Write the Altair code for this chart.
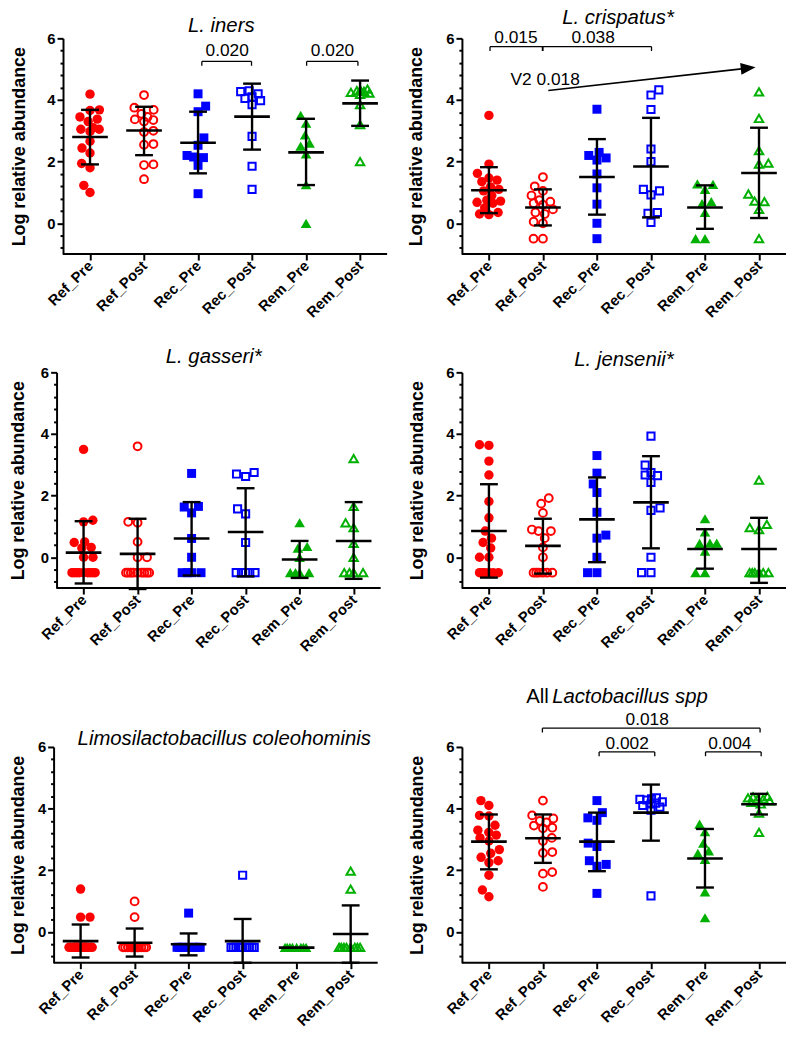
import altair as alt
import pandas as pd

# ---------------- data ----------------
GROUPS = ["Ref_Pre", "Ref_Post", "Rec_Pre", "Rec_Post", "Rem_Pre", "Rem_Post"]
GROUP_SHAPES = ["circle", "circle", "square", "square", "triangle-up", "triangle-up"]
GROUP_COLORS = ["#ff0000", "#ff0000", "#0000ff", "#0000ff", "#00b000", "#00b000"]
GROUP_FILLED = [True, False, True, False, True, False]
Y_TICK_VALUES = [-0.8, -0.4, 0.0, 0.4, 0.8, 1.2, 1.6, 2.0, 2.4, 2.8, 3.2, 3.6, 4.0, 4.4, 4.8, 5.2, 5.6, 6.0]

iners_values = [
    [4.19, 3.68, 3.66, 3.45, 3.38, 3.30, 3.10, 3.05, 3.05, 2.98, 2.66, 2.44, 2.28, 1.94, 1.80, 1.23, 1.00],
    [4.16, 3.75, 3.68, 3.55, 3.45, 3.37, 3.35, 3.30, 3.00, 2.96, 2.57, 2.55, 1.91, 1.89, 1.43],
    [4.20, 3.80, 3.62, 2.77, 2.53, 2.20, 2.15, 2.13, 1.88, 0.96],
    [4.30, 4.27, 4.20, 4.10, 4.05, 3.98, 3.85, 2.82, 1.85, 1.10],
    [3.50, 3.25, 2.87, 2.60, 2.50, 2.25, 1.25, 0.00],
    [4.35, 4.32, 4.30, 4.28, 4.25, 4.22, 4.18, 3.85, 3.20, 2.00],
]
iners_mean = [2.80, 3.01, 2.61, 3.46, 2.30, 3.89]
iners_sd_hi = [3.68, 3.78, 3.62, 4.53, 3.39, 4.63]
iners_sd_lo = [1.91, 2.21, 1.62, 2.39, 1.24, 3.16]

crispatus_values = [
    [3.50, 1.92, 1.62, 1.47, 1.40, 1.35, 1.18, 1.10, 1.05, 0.90, 0.75, 0.72, 0.68, 0.65, 0.50, 0.35, 0.30, 0.28],
    [1.50, 1.20, 1.05, 0.90, 0.75, 0.70, 0.65, 0.60, 0.45, 0.35, 0.30, 0.05, 0.00, -0.50, -0.50],
    [3.70, 2.30, 2.20, 2.12, 2.05, 1.60, 1.15, 0.62, 0.00, -0.50],
    [4.33, 4.16, 3.69, 2.41, 2.00, 1.10, 1.05, 0.92, 0.35, 0.32, 0.03],
    [1.28, 1.26, 1.10, 0.70, 0.64, 0.35, -0.50, -0.50],
    [4.26, 3.40, 2.36, 1.95, 1.92, 0.95, 0.72, 0.70, 0.45, -0.50],
]
crispatus_mean = [1.07, 0.51, 1.50, 1.84, 0.51, 1.63]
crispatus_sd_hi = [1.82, 1.10, 2.73, 3.42, 1.23, 3.10]
crispatus_sd_lo = [0.33, -0.07, 0.28, 0.19, -0.18, 0.17]

gasseri_values = [
    [3.50, 1.20, 1.15, 0.50, 0.48, 0.32, 0.30, 0.00, 0.00,
     -0.50, -0.50, -0.50, -0.50, -0.50, -0.50, -0.50, -0.50, -0.50],
    [3.60, 1.15, 1.12, 0.50, 0.00, 0.00,
     -0.50, -0.50, -0.50, -0.50, -0.50, -0.50, -0.50, -0.50, -0.50],
    [2.72, 1.65, 1.63, 1.44, 0.61, 0.00, -0.50, -0.50, -0.50, -0.50],
    [2.75, 2.70, 2.62, 1.57, 1.41, 0.48, -0.50, -0.50, -0.50, -0.50, -0.50],
    [1.12, 0.35, 0.30, 0.00, -0.50, -0.50, -0.50, -0.50],
    [3.20, 1.65, 1.12, 0.96, 0.45, 0.00, -0.50, -0.50, -0.50, -0.50],
]
gasseri_mean = [0.15, 0.11, 0.61, 0.82, -0.07, 0.53]
gasseri_sd_hi = [1.17, 1.25, 1.79, 2.24, 0.53, 1.79]
gasseri_sd_lo = [-0.85, -1.03, -0.59, -0.62, -0.67, -0.70]

jensenii_values = [
    [3.65, 3.63, 3.12, 2.67, 1.81, 1.28, 0.85, 0.62, 0.48, 0.30, 0.00, 0.00,
     -0.50, -0.50, -0.50, -0.50, -0.50, -0.50],
    [1.92, 1.74, 1.44, 0.90, 0.85, 0.85, 0.62, 0.32, 0.00,
     -0.50, -0.50, -0.50, -0.50, -0.50, -0.50],
    [3.30, 2.73, 2.38, 2.10, 1.46, 0.72, 0.62, 0.00, -0.50, -0.50],
    [3.93, 2.99, 2.75, 2.67, 2.65, 2.43, 1.60, 1.52, 0.00, -0.50, -0.50],
    [1.25, 0.82, 0.46, 0.46, 0.45, 0.20, -0.50, -0.50],
    [2.50, 1.07, 0.96, 0.90, -0.50, -0.50, -0.50, -0.50, -0.50, -0.50],
]
jensenii_mean = [0.85, 0.37, 1.23, 1.78, 0.27, 0.27]
jensenii_sd_hi = [2.37, 1.25, 2.59, 3.28, 0.91, 1.28]
jensenii_sd_lo = [-0.66, -0.53, -0.16, 0.29, -0.37, -0.83]

coleo_values = [
    [1.39, 0.48, 0.48, -0.50, -0.50, -0.50, -0.50, -0.50, -0.50, -0.50, -0.50,
     -0.50, -0.50, -0.50, -0.50, -0.50, -0.50, -0.50],
    [0.99, 0.48, -0.50, -0.50, -0.50, -0.50, -0.50, -0.50, -0.50, -0.50,
     -0.50, -0.50, -0.50, -0.50, -0.50],
    [0.61, -0.50, -0.50, -0.50, -0.50, -0.50, -0.50, -0.50, -0.50, -0.50],
    [1.84, -0.50, -0.50, -0.50, -0.50, -0.50, -0.50, -0.50, -0.50, -0.50, -0.50],
    [-0.50, -0.50, -0.50, -0.50, -0.50, -0.50, -0.50, -0.50],
    [1.97, 1.39, -0.50, -0.50, -0.50, -0.50, -0.50, -0.50, -0.50, -0.50],
]
coleo_mean = [-0.30, -0.35, -0.40, -0.30, -0.51, -0.07]
coleo_sd_hi = [0.24, 0.11, -0.05, 0.42, -0.51, 0.86]
coleo_sd_lo = [-0.83, -0.80, -0.76, -1.00, -0.51, -1.00]

lacto_values = [
    [4.26, 4.10, 3.78, 3.76, 3.46, 3.30, 3.23, 3.14, 3.05, 2.95, 2.67, 2.55, 2.42, 2.31, 2.25, 1.84, 1.36, 1.14],
    [4.26, 3.78, 3.68, 3.60, 3.55, 3.45, 3.38, 3.36, 3.05, 2.95, 2.59, 2.56, 1.94, 1.89, 1.46],
    [4.26, 3.87, 3.70, 3.62, 2.88, 2.77, 2.31, 2.19, 2.13, 1.25],
    [4.35, 4.32, 4.30, 4.28, 4.22, 4.18, 4.15, 4.10, 4.05, 3.95, 1.17],
    [3.50, 3.25, 2.88, 2.63, 2.55, 2.35, 1.30, 0.46],
    [4.40, 4.38, 4.35, 4.32, 4.30, 4.25, 4.20, 4.15, 3.85, 3.23],
]
lacto_mean = [2.93, 3.04, 2.93, 3.87, 2.38, 4.14]
lacto_sd_hi = [3.81, 3.81, 3.87, 4.78, 3.34, 4.48]
lacto_sd_lo = [2.03, 2.24, 1.97, 2.96, 1.44, 3.81]

# significance brackets: (x from, x to, level, label, label x, label y)
iners_brackets = [(2.07, 2.99, 5.25, "0.020", 2.54, 5.44), (4.01, 4.96, 5.25, "0.020", 4.49, 5.44)]
crispatus_brackets = [(0.02, 1.0, 5.73, "0.015", 0.50, 5.86), (0.99, 3.01, 5.73, "0.038", 1.93, 5.86)]
lacto_brackets = [(0.99, 5.02, 6.61, "0.018", 2.93, 6.72),
                  (2.04, 3.07, 5.84, "0.002", 2.56, 5.95),
                  (4.01, 5.04, 5.84, "0.004", 4.46, 5.95)]

# ---------------- styling / layout ----------------
FONT = "Liberation Sans"
W, H = 327, 217.7
PX_PER_UNIT = H / 7.0
STEP_PX = W / 6.0

SIZES = {("circle", True): 90, ("circle", False): 62,
         ("square", True): 82, ("square", False): 52,
         ("triangle-up", True): 115, ("triangle-up", False): 72}

YSCALE = alt.Scale(domain=[-1, 6], nice=False, zero=False)
label_list = "[" + ",".join("'%s'" % g for g in GROUPS) + "]"


def x_axis():
    return alt.Axis(values=list(range(6)), labelExpr=label_list + "[datum.value]", title=None,
                    labelAngle=315, labelAlign="right", labelBaseline="middle",
                    labelFont=FONT, labelFontSize=15, labelFontWeight="bold", labelColor="black",
                    labelPadding=3, tickSize=6, tickWidth=2, tickColor="black",
                    domain=False, grid=False, labelFlush=False, labelOverlap=False)


def y_axis(title_pad, offset):
    return alt.Axis(values=Y_TICK_VALUES,
                    labelExpr="datum.value % 2 === 0 ? format(datum.value, 'd') : ''",
                    title="Log relative abundance", titleFont=FONT, titleFontSize=18,
                    titleFontWeight="bold", titleColor="black", titlePadding=title_pad,
                    labelFont=FONT, labelFontSize=15, labelFontWeight="bold", labelColor="black",
                    labelPadding=2, offset=offset,
                    tickSize={"condition": {"test": "datum.value % 2 === 0", "value": 6}, "value": 3},
                    tickWidth=2, tickColor="black", domainColor="black", domainWidth=2,
                    grid=False, labelOverlap=False, labelFlush=False)


def swarm(vals, d=9.5, maxhalf=12.0):
    n = len(vals)
    order = sorted(range(n), key=lambda i: vals[i])
    placed = []
    offs = [0.0] * n
    for i in order:
        y = vals[i] * PX_PER_UNIT
        dd = d
        chosen = None
        sign = 1 if len(placed) % 2 else -1
        while chosen is None:
            cands = [0.0]
            for px, py in placed:
                dy = abs(py - y)
                if dy < dd:
                    dx = (dd * dd - dy * dy) ** 0.5
                    cands.append(px + dx)
                    cands.append(px - dx)
            cands.sort(key=lambda c: (round(abs(c), 6), sign * c))
            for c in cands:
                if abs(c) > maxhalf + 1e-9:
                    continue
                if all((c - px) ** 2 + (y - py) ** 2 >= dd * dd - 1e-6 for px, py in placed):
                    chosen = c
                    break
            if chosen is None:
                dd *= 0.85
                if dd < 0.5:
                    chosen = 0.0
        offs[i] = chosen
        placed.append((chosen, y))
    return offs


class Panel:
    """One GraphPad-style panel; `shift` moves the plot (and its y axis) right by that many px."""

    def __init__(self, title_pad, shift=0.0):
        self.shift = shift
        self.xscale = alt.Scale(domain=[-0.5 - shift / STEP_PX, 5.5], nice=False, zero=False)
        self.xaxis = x_axis()
        self.yaxis = y_axis(title_pad, -shift)
        self.layers = []

    def X(self, field):
        return alt.X(field + ":Q", scale=self.xscale, axis=self.xaxis)

    def Y(self, field):
        return alt.Y(field + ":Q", scale=YSCALE, axis=self.yaxis)

    def text(self, rows, **kw):
        df = pd.DataFrame(rows, columns=["x", "y", "t"])
        base = dict(font=FONT, color="black", baseline="alphabetic")
        base.update(kw)
        self.layers.append(alt.Chart(df).mark_text(**base).encode(
            x=self.X("x"), y=self.Y("y"), text="t:N"))

    def title(self, text, x, y):
        self.text([(x, y, text)], fontSize=20.5, fontStyle="italic", align="center")

    def data(self, values, means, sd_hi, sd_lo, brackets=()):
        for gi in range(6):
            offs = swarm(values[gi])
            df = pd.DataFrame({"x": [gi + o / STEP_PX for o in offs], "v": values[gi]})
            shape = GROUP_SHAPES[gi]
            filled = GROUP_FILLED[gi]
            mk = dict(shape=shape, filled=filled, color=GROUP_COLORS[gi], opacity=1,
                      size=SIZES[(shape, filled)], strokeWidth=0 if filled else 2)
            self.layers.append(alt.Chart(df).mark_point(**mk).encode(x=self.X("x"), y=self.Y("v")))
        # x axis baseline from the y axis to the end of the last category band
        segs = [(-0.5, 5.5, -1.0, -1.0, 2.0)]
        for c in range(6):
            m, hi, lo = means[c], sd_hi[c], sd_lo[c]
            segs.append((c - 0.33, c + 0.33, m, m, 2.6))
            if hi > lo:
                segs.append((c, c, lo, hi, 2.4))
                segs.append((c - 0.165, c + 0.165, hi, hi, 2.4))
                segs.append((c - 0.165, c + 0.165, lo, lo, 2.4))
        for x1, x2, lev, lab, lx, ly in brackets:
            segs.append((x1, x2, lev, lev, 1.3))
            segs.append((x1, x1, lev - 0.14, lev, 1.3))
            segs.append((x2, x2, lev - 0.14, lev, 1.3))
        sdf = pd.DataFrame(segs, columns=["x1", "x2", "y1", "y2", "w"])
        self.layers.append(alt.Chart(sdf).mark_rule(color="black").encode(
            x=self.X("x1"), x2="x2", y=self.Y("y1"), y2="y2",
            strokeWidth=alt.StrokeWidth("w:Q", scale=None)))
        if brackets:
            self.text([(lx, ly, lab) for _, _, _, lab, lx, ly in brackets],
                      fontSize=17.5, align="center")

    def arrow(self, start, head_center, angle):
        df = pd.DataFrame({"x1": [start[0]], "x2": [head_center[0]],
                           "y1": [start[1]], "y2": [head_center[1]]})
        self.layers.append(alt.Chart(df).mark_rule(color="black", strokeWidth=1.6).encode(
            x=self.X("x1"), x2="x2", y=self.Y("y1"), y2="y2"))
        hd = pd.DataFrame({"x": [head_center[0]], "v": [head_center[1]]})
        self.layers.append(alt.Chart(hd).mark_point(
            shape="M-1,-0.8L1,0L-1,0.8Z", filled=True, size=225, angle=angle,
            color="black", opacity=1, strokeWidth=0).encode(x=self.X("x"), y=self.Y("v")))

    def anchor(self, x, y):
        # invisible point that fixes the top edge of the figure's content box
        hd = pd.DataFrame({"x": [x], "v": [y]})
        self.layers.append(alt.Chart(hd).mark_point(
            filled=True, size=4, opacity=0, strokeWidth=0).encode(x=self.X("x"), y=self.Y("v")))

    def chart(self):
        return alt.layer(*self.layers).properties(width=W + self.shift, height=H)


a = Panel(19, shift=9.5)
a.data(iners_values, iners_mean, iners_sd_hi, iners_sd_lo, iners_brackets)
a.title("L. iners", 2.43, 6.22)
p1 = a.chart()

b = Panel(20)
b.data(crispatus_values, crispatus_mean, crispatus_sd_hi, crispatus_sd_lo, crispatus_brackets)
b.title("L. crispatus*", 2.39, 6.45)
b.arrow((1.10, 4.31), (4.80, 5.033), 353.7)
b.text([(1.04, 4.49, "V2 0.018")], fontSize=17.5, align="center")
b.anchor(2.5, 7.6)
p2 = b.chart()

c = Panel(13, shift=3)
c.data(gasseri_values, gasseri_mean, gasseri_sd_hi, gasseri_sd_lo)
c.title("L. gasseri*", 2.41, 6.30)
p3 = c.chart()

d = Panel(19)
d.data(jensenii_values, jensenii_mean, jensenii_sd_hi, jensenii_sd_lo)
d.title("L. jensenii*", 2.50, 6.22)
p4 = d.chart()

e = Panel(10)
e.data(coleo_values, coleo_mean, coleo_sd_hi, coleo_sd_lo)
e.title("Limosilactobacillus coleohominis", 2.66, 6.07)
p5 = e.chart()

f = Panel(19)
f.data(lacto_values, lacto_mean, lacto_sd_hi, lacto_sd_lo, lacto_brackets)
f.text([(1.11, 7.42, "All")], fontSize=20.5, align="right")
f.text([(1.17, 7.42, "Lactobacillus spp")], fontSize=20.5, fontStyle="italic", align="left")
p6 = f.chart()


def spacer(w, h):
    return alt.Chart(pd.DataFrame({"a": [0]})).mark_point(opacity=0).encode(
        x=alt.X("a:Q", axis=None), y=alt.Y("a:Q", axis=None)).properties(width=w, height=h)


cells = [
    p1, spacer(75, 10), p2,
    spacer(1, 119.0), spacer(1, 1), spacer(1, 119.0),
    p3, spacer(75, 10), p4,
    spacer(1, 159.5), spacer(1, 1), spacer(1, 159.5),
    p5, spacer(75, 10), p6,
]

chart = alt.concat(*cells, columns=3, spacing=0, bounds="flush").properties(
    padding={"left": 1, "top": -25, "right": 0, "bottom": 0}
).configure_view(stroke=None)

chart.save("out.html", embed_options={"renderer": "svg", "actions": False})
